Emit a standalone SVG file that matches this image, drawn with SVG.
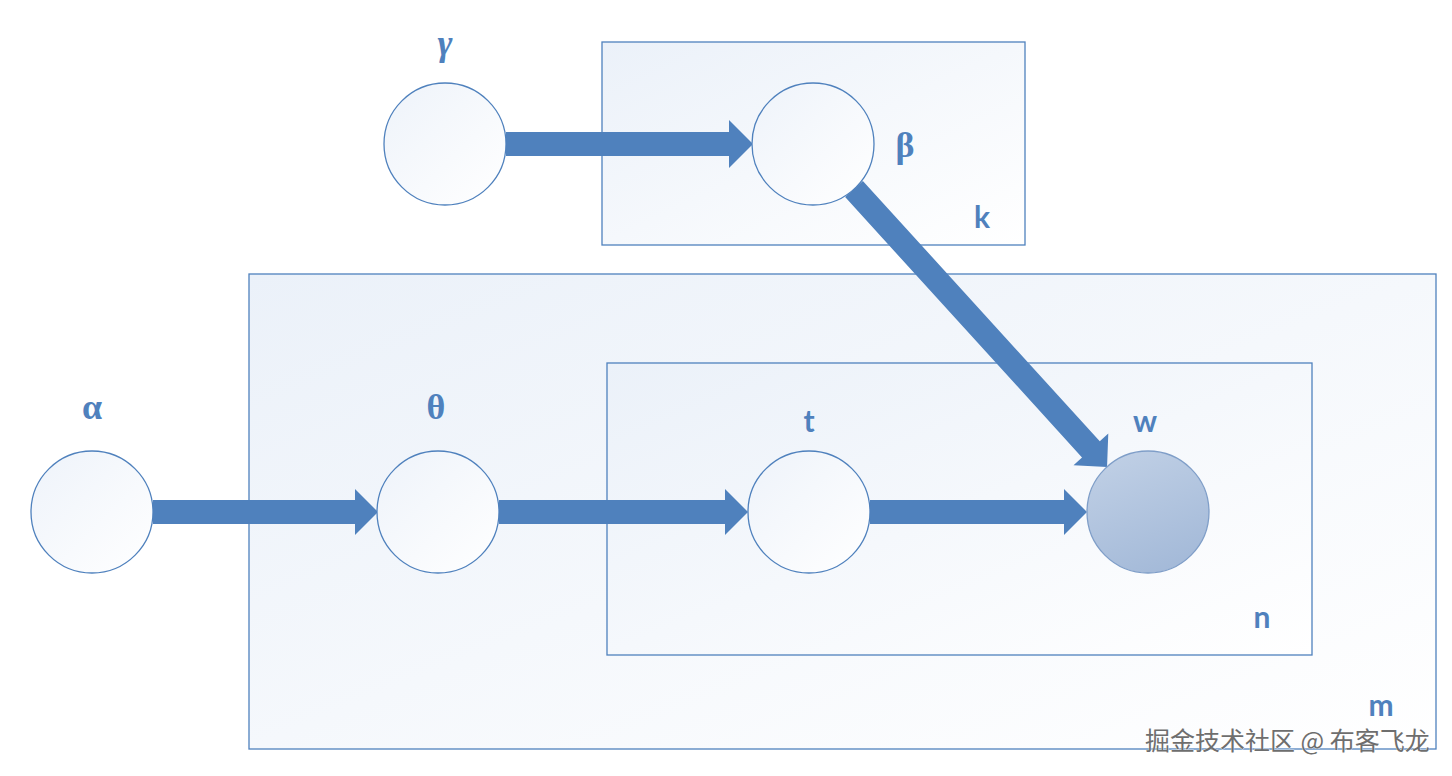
<svg xmlns="http://www.w3.org/2000/svg" width="1452" height="776" viewBox="0 0 1452 776">
<defs>
<linearGradient id="plateG" x1="0" y1="0" x2="1" y2="1">
<stop offset="0" stop-color="#ebf1f9"/>
<stop offset="1" stop-color="#ffffff"/>
</linearGradient>
<linearGradient id="nodeG" x1="0" y1="0" x2="1" y2="1">
<stop offset="0" stop-color="#eef3fa"/>
<stop offset="1" stop-color="#ffffff"/>
</linearGradient>
<linearGradient id="obsG" x1="0.3" y1="0" x2="0.7" y2="1">
<stop offset="0" stop-color="#bfcfe5"/>
<stop offset="1" stop-color="#a3b9d8"/>
</linearGradient>
</defs>
<style>
.plate{fill:url(#plateG);stroke:#4f81bd;stroke-width:1.3}
.node{fill:url(#nodeG);stroke:#4f81bd;stroke-width:1.3}
.obs{fill:url(#obsG);stroke:#7f9ec8;stroke-width:1.3}
.edge{fill:#4f81bd}
.lbl{font-family:Lato,"Open Sans",sans-serif;font-weight:bold;font-size:30px;fill:#4f81bd;text-anchor:middle}
.grk{font-family:"Liberation Serif","DejaVu Serif",serif;font-weight:bold;font-size:36px;fill:#4f81bd;text-anchor:middle}
.wm{font-family:"Noto Sans CJK SC",sans-serif;font-size:25px;fill:#6e6e6e;stroke:#ffffff;stroke-width:0.6;paint-order:stroke}
</style>
<rect width="1452" height="776" fill="#ffffff"/>
<g id="plate-m"><rect class="plate" x="249" y="274" width="1187" height="475"/><text class="lbl" x="1381" y="716">m</text></g>
<g id="plate-k"><rect class="plate" x="602" y="42" width="423" height="203"/><text class="lbl" x="982" y="228">k</text></g>
<g id="plate-n"><rect class="plate" x="607" y="363" width="705" height="292"/><text class="lbl" x="1262" y="628">n</text></g>
<g id="connectors">
<polygon class="edge" points="506,132 729,132 729,120 753,144 729,168 729,156 506,156"/>
<polygon class="edge" points="153,500 355,500 355,489 378,512 355,535 355,524 153,524"/>
<polygon class="edge" points="499,500 725,500 725,489 748,512 725,535 725,524 499,524"/>
<polygon class="edge" points="870,500 1064,500 1064,489 1087,512 1064,535 1064,524 870,524"/>
<polygon class="edge" transform="translate(854,189) rotate(47.7)" points="0,-12 352,-12 352,-23.5 376,0 352,23.5 352,12 0,12"/>
</g>
<g id="node-gamma"><circle class="node" cx="445" cy="144" r="61"/><text class="grk" x="445" y="55" font-style="italic">γ</text></g>
<g id="node-beta"><circle class="node" cx="813" cy="144" r="61"/><text class="grk" x="905" y="157">β</text></g>
<g id="node-alpha"><circle class="node" cx="92" cy="512" r="61"/><text class="grk" x="92" y="419">α</text></g>
<g id="node-theta"><circle class="node" cx="438" cy="512" r="61"/><text class="grk" x="436" y="419">θ</text></g>
<g id="node-t"><circle class="node" cx="809" cy="512" r="61"/><text class="lbl" x="809" y="432">t</text></g>
<g id="node-w"><circle class="obs" cx="1148" cy="512" r="61"/><text class="lbl" x="1145" y="432">w</text></g>
<text class="wm" x="1145" y="750">掘金技术社区 @ 布客飞龙</text>
</svg>
